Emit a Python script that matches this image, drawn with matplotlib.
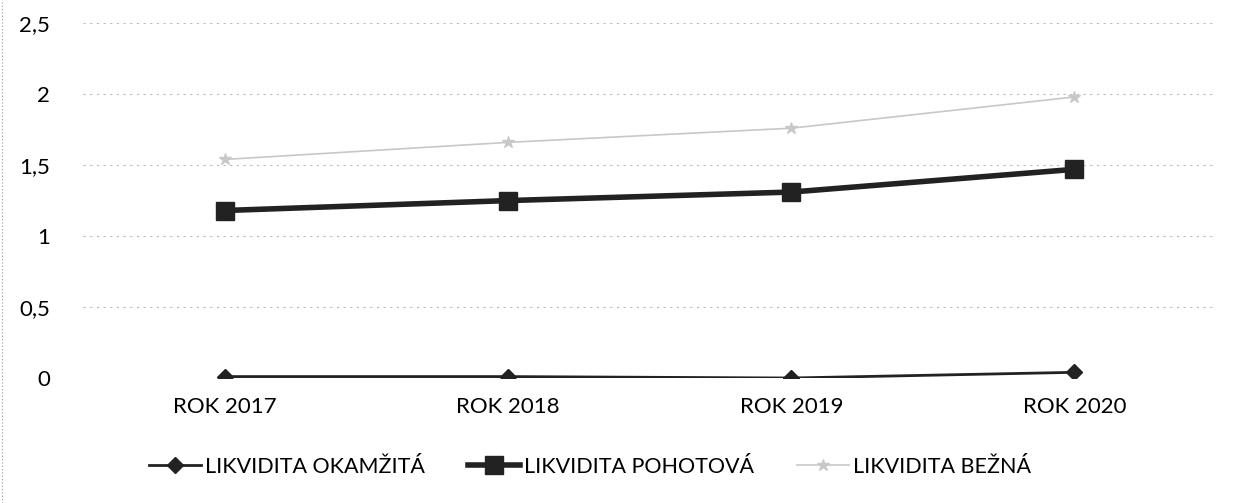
import matplotlib.pyplot as plt
from matplotlib.ticker import FuncFormatter

# data
years = ['ROK 2017', 'ROK 2018', 'ROK 2019', 'ROK 2020']
okamzita = [0.01, 0.01, 0.0, 0.04]
pohotova = [1.18, 1.25, 1.31, 1.47]
bezna = [1.54, 1.66, 1.76, 1.98]
y_ticks = [0, 0.5, 1, 1.5, 2, 2.5]

plt.rcParams['font.family'] = ['Lato', 'DejaVu Sans']

fig = plt.figure(figsize=(12.37, 5.03), dpi=100)
ax = fig.add_axes([0.0675, 0.2485, 0.9155, 0.7055])

x = range(len(years))
ax.plot(x, bezna, color='#c8c8c8', lw=1.2, marker='*', ms=9, label='LIKVIDITA BEŽNÁ', zorder=2)
ax.plot(x, pohotova, color='#222222', lw=4, marker='s', ms=13, label='LIKVIDITA POHOTOVÁ', zorder=3)
ax.plot(x, okamzita, color='#222222', lw=2, marker='D', ms=8, label='LIKVIDITA OKAMŽITÁ', zorder=3)

ax.set_xlim(-0.5, 3.5)
ax.set_ylim(0, 2.5)
ax.set_yticks(y_ticks)
ax.yaxis.set_major_formatter(FuncFormatter(lambda v, p: ('%g' % v).replace('.', ',')))
ax.set_xticks(list(x))
ax.set_xticklabels(years)
ax.tick_params(length=0, labelsize=16)
ax.tick_params(axis='y', pad=24)
ax.tick_params(axis='x', pad=14)
ax.grid(axis='y', color='#bbbbbb', ls=(0, (2, 4)), lw=0.8)
for s in ax.spines.values():
    s.set_visible(False)

h, l = ax.get_legend_handles_labels()
order = [2, 1, 0]
fig.legend([h[i] for i in order], [l[i] for i in order], loc='center', bbox_to_anchor=(0.477, 0.072),
           ncol=3, frameon=False, fontsize=15.5, columnspacing=2, handlelength=2.4, handletextpad=0.2)

fig.add_artist(plt.Line2D([0.002, 0.002], [0, 1], color='#999999', lw=0.8, ls=(0, (1, 2))))

fig.savefig('out.png', dpi=100)
